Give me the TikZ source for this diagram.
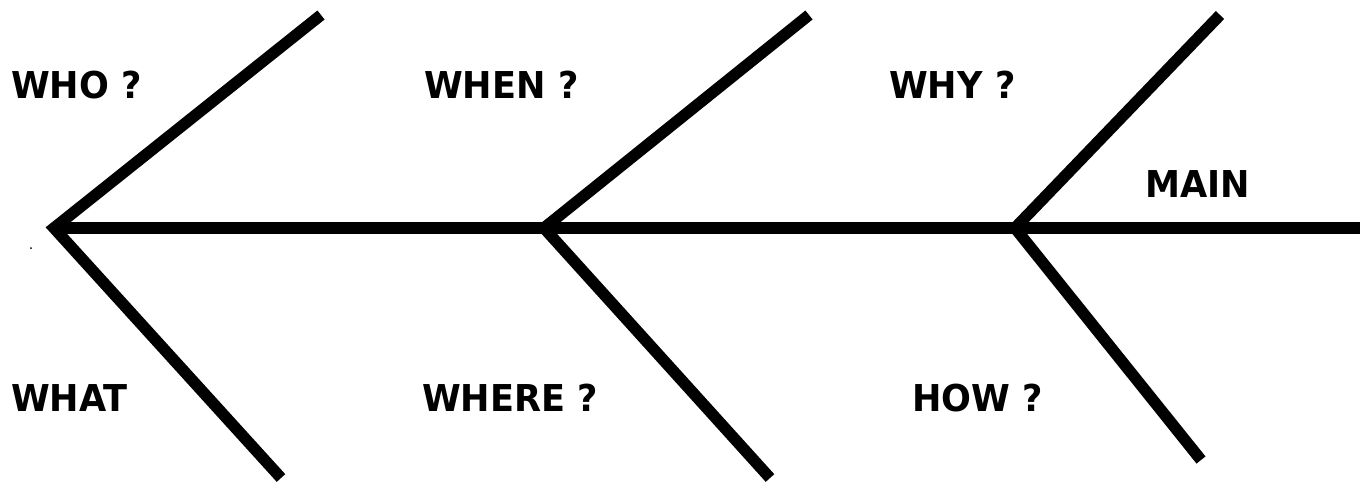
\documentclass[tikz,border=0pt]{standalone}
\usepackage{fontspec}
\setmainfont{DejaVu Sans}[BoldFeatures={FakeStretch=0.95}]
\tikzset{
  bone/.style={line width=11.5pt, line cap=butt, line join=miter},
  lbl/.style={font=\fontsize{37}{40}\selectfont\bfseries, inner sep=0pt, anchor=base west}
}
\begin{document}
\begin{tikzpicture}[x=1pt,y=-1pt]
\useasboundingbox[fill=white] (0,0) rectangle (1367,487);
% junctions
\coordinate (j1) at (54,228);
\coordinate (j2) at (544,228);
\coordinate (j3) at (1015,228);
\coordinate (tail) at (1360,228);
\coordinate (u1) at (321,15);
\coordinate (u2) at (809,15);
\coordinate (u3) at (1220,15);
\coordinate (d1) at (281,478);
\coordinate (d2) at (770,478);
\coordinate (d3) at (1201,460);
\draw[bone] (j1) -- (tail);
\draw[bone] (u1) -- (j1) -- (d1);
\draw[bone] (u2) -- (j2) -- (d2);
\draw[bone] (u3) -- (j3) -- (d3);
% labels
\node[lbl] (who) at (11,98) {WHO ?};
\node[lbl] (when) at (424,98) {WHEN ?};
\node[lbl] (why) at (889,98) {WHY ?};
\node[lbl] (main) at (1145,197) {MAIN};
\node[lbl] (what) at (11,411) {WHAT};
\node[lbl] (where) at (422,411) {WHERE ?};
\node[lbl] (how) at (912,411) {HOW ?};
\fill (31,248) circle (1pt);
\end{tikzpicture}
\end{document}
